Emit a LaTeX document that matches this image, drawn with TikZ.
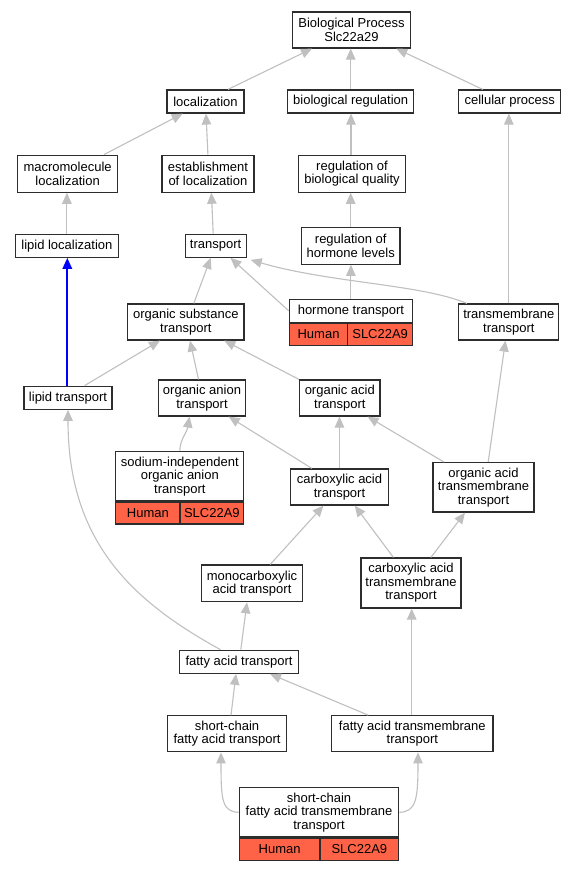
\documentclass[tikz,border=0pt]{standalone}
\usepackage{fontspec}
\setmainfont{Liberation Sans}
\usetikzlibrary{arrows.meta}
\definecolor{edgegray}{RGB}{192,192,192}
\definecolor{humanred}{RGB}{255,99,71}
\definecolor{boxline}{RGB}{45,45,45}
\tikzset{
  gobox/.style={draw=boxline, line width=1.2pt, fill=white, inner sep=0pt, align=center,
    font=\fontsize{13}{13.5}\selectfont},
  cellbox/.style={gobox, fill=humanred},
  isa/.style={draw=edgegray, line width=1.1pt, -{Triangle[length=11pt,width=9.5pt]}},
  blueisa/.style={draw=blue, line width=1.8pt, -{Triangle[length=11pt,width=9.5pt]}},
}
\begin{document}
\begin{tikzpicture}[x=1pt,y=-1pt]
\fill[white] (0,0) rectangle (576,869);
\useasboundingbox (0,0) rectangle (576,869);

% nodes
\node[gobox, minimum width=118pt, minimum height=36pt] (bp) at (351.5,30) {Biological Process\\Slc22a29};
\node[gobox, minimum width=77pt, minimum height=23pt] (loc) at (205.5,101.5) {localization};
\node[gobox, minimum width=126pt, minimum height=23pt] (bioreg) at (350.7,101.5) {biological regulation};
\node[gobox, minimum width=102pt, minimum height=23pt] (cell) at (509.7,101.5) {cellular process};
\node[gobox, minimum width=100pt, minimum height=37pt] (macro) at (67.6,173.7) {macromolecule\\localization};
\node[gobox, minimum width=92pt, minimum height=37pt] (estab) at (207.9,173.7) {establishment\\of localization};
\node[gobox, minimum width=107pt, minimum height=37pt] (rbq) at (352,173.7) {regulation of\\biological quality};
\node[gobox, minimum width=103pt, minimum height=23pt] (lipidloc) at (66.9,245.8) {lipid localization};
\node[gobox, minimum width=61pt, minimum height=23pt] (transport) at (215.6,245.8) {transport};
\node[gobox, minimum width=98.5pt, minimum height=37pt] (rhl) at (350.7,245.7) {regulation of\\hormone levels};

\node[gobox, minimum width=123.2pt, minimum height=23pt] (hormone) at (350.9,310.8) {hormone transport};
\node[cellbox, minimum width=58.5pt, minimum height=21.7pt, anchor=north west] (hormoneH) at (hormone.south west) {Human};
\node[cellbox, minimum width=64.7pt, minimum height=21.7pt, anchor=north east] (hormoneS) at (hormone.south east) {SLC22A9};

\node[gobox, minimum width=100pt, minimum height=36pt] (tmt) at (508.8,322) {transmembrane\\transport};
\node[gobox, minimum width=116.4pt, minimum height=36pt] (ost) at (185.8,322) {organic substance\\transport};
\node[gobox, minimum width=88pt, minimum height=23pt] (liptr) at (68,397.7) {lipid transport};
\node[gobox, minimum width=87pt, minimum height=36pt] (oat) at (202,398) {organic anion\\transport};
\node[gobox, minimum width=80.4pt, minimum height=36pt] (oact) at (339.8,398) {organic acid\\transport};

\node[gobox, minimum width=128pt, minimum height=49.3pt] (sodium) at (179.8,476.35) {sodium-independent\\organic anion\\transport};
\node[cellbox, minimum width=64.2pt, minimum height=21.7pt, anchor=north west] (sodiumH) at (sodium.south west) {Human};
\node[cellbox, minimum width=63.8pt, minimum height=21.7pt, anchor=north east] (sodiumS) at (sodium.south east) {SLC22A9};

\node[gobox, minimum width=98.6pt, minimum height=36pt] (cat) at (339.5,487) {carboxylic acid\\transport};
\node[gobox, minimum width=101pt, minimum height=49.5pt] (oatm) at (483.5,487.3) {organic acid\\transmembrane\\transport};
\node[gobox, minimum width=101.6pt, minimum height=36.7pt] (mono) at (252,583.4) {monocarboxylic\\acid transport};
\node[gobox, minimum width=100pt, minimum height=50pt] (catm) at (411,583) {carboxylic acid\\transmembrane\\transport};
\node[gobox, minimum width=119.4pt, minimum height=23pt] (fat) at (239,661.8) {fatty acid transport};
\node[gobox, minimum width=119.4pt, minimum height=36pt] (scfat) at (227,733.8) {short-chain\\fatty acid transport};
\node[gobox, minimum width=161.4pt, minimum height=36pt] (fatm) at (412.3,733.8) {fatty acid transmembrane\\transport};

\node[gobox, minimum width=159.4pt, minimum height=49.3pt] (scfatm) at (319,812.35) {short-chain\\fatty acid transmembrane\\transport};
\node[cellbox, minimum width=80.7pt, minimum height=22pt, anchor=north west] (scfatmH) at (scfatm.south west) {Human};
\node[cellbox, minimum width=78.7pt, minimum height=22pt, anchor=north east] (scfatmS) at (scfatm.south east) {SLC22A9};

% edges
\draw[isa] ([xshift=22.5pt]loc.north) -- ([xshift=-39.5pt]bp.south);
\draw[isa] (bioreg.north) -- (bioreg.north |- bp.south);
\draw[isa] ([xshift=-27pt]cell.north) -- ([xshift=44.8pt]bp.south);
\draw[isa] ([xshift=36.4pt]macro.north) -- ([xshift=-22.8pt]loc.south);
\draw[isa] (estab.north) -- ([xshift=0.5pt]loc.south);
\draw[isa] ([xshift=-1pt]rbq.north) -- ([xshift=-1pt]rbq.north |- bioreg.south);
\draw[isa] (tmt.north) -- (tmt.north |- cell.south);
\draw[isa] (lipidloc.north) -- (lipidloc.north |- macro.south);
\draw[isa] ([xshift=-2.4pt]transport.north) -- ([xshift=3.5pt]estab.south);
\draw[isa] (rhl.north) -- (rhl.north |- rbq.south);
\draw[blueisa] ([xshift=-0.7pt]liptr.north) -- ([xshift=-0.7pt]liptr.north |- lipidloc.south);
\draw[isa] ([xshift=8pt]ost.north) -- ([xshift=-4.9pt]transport.south);
\draw[isa] (hormone.west) -- ([xshift=14.9pt]transport.south);
\draw[isa] (hormone.north) -- (hormone.north |- rhl.south);
\draw[isa] ([xshift=-41.9pt]tmt.north) .. controls (420,284) and (330,283) .. ([xshift=4pt,yshift=-2pt]transport.south east);
\draw[isa] ([xshift=16.6pt]liptr.north) -- ([xshift=-25.8pt]ost.south);
\draw[isa] ([xshift=-3.5pt]oat.north) -- ([xshift=4.2pt]ost.south);
\draw[isa] (oact.north west) -- ([xshift=38.5pt]ost.south);
\draw[isa] (sodium.north) .. controls (179.8,440) and (187,432) .. ([xshift=-12.5pt]oat.south);
\draw[isa] ([xshift=-27.7pt]cat.north) -- ([xshift=26.7pt]oat.south);
\draw[isa] (cat.north) -- (cat.north |- oact.south);
\draw[isa] ([xshift=-39.7pt]oatm.north) -- ([xshift=27.8pt]oact.south);
\draw[isa] ([xshift=4.7pt]oatm.north) -- ([xshift=-3.3pt]tmt.south);
\draw[isa] ([xshift=18.2pt]mono.north) -- ([xshift=-16pt]cat.south);
\draw[isa] ([xshift=-17.6pt]catm.north) -- ([xshift=15.3pt]cat.south);
\draw[isa] ([xshift=19.9pt]catm.north) -- ([xshift=-18.5pt]oatm.south);
\draw[isa] ([xshift=1.8pt]fat.north) -- ([xshift=-5pt]mono.south);
\draw[isa] ([xshift=-18.4pt]fat.north) .. controls (130,600) and (68,540) .. (liptr.south);
\draw[isa] ([xshift=-44pt]fatm.north) -- ([xshift=31pt]fat.south);
\draw[isa] ([xshift=-0.6pt]fatm.north) -- ([xshift=-0.6pt]fatm.north |- catm.south);
\draw[isa] ([xshift=4pt]scfat.north) -- ([xshift=-3pt]fat.south);
\draw[isa] (scfatm.west) .. controls (222,811.7) and (221,800) .. ([xshift=-6pt]scfat.south);
\draw[isa] (scfatm.east) .. controls (416,811.7) and (418,800) .. ([xshift=5.7pt]fatm.south);
\end{tikzpicture}
\end{document}
